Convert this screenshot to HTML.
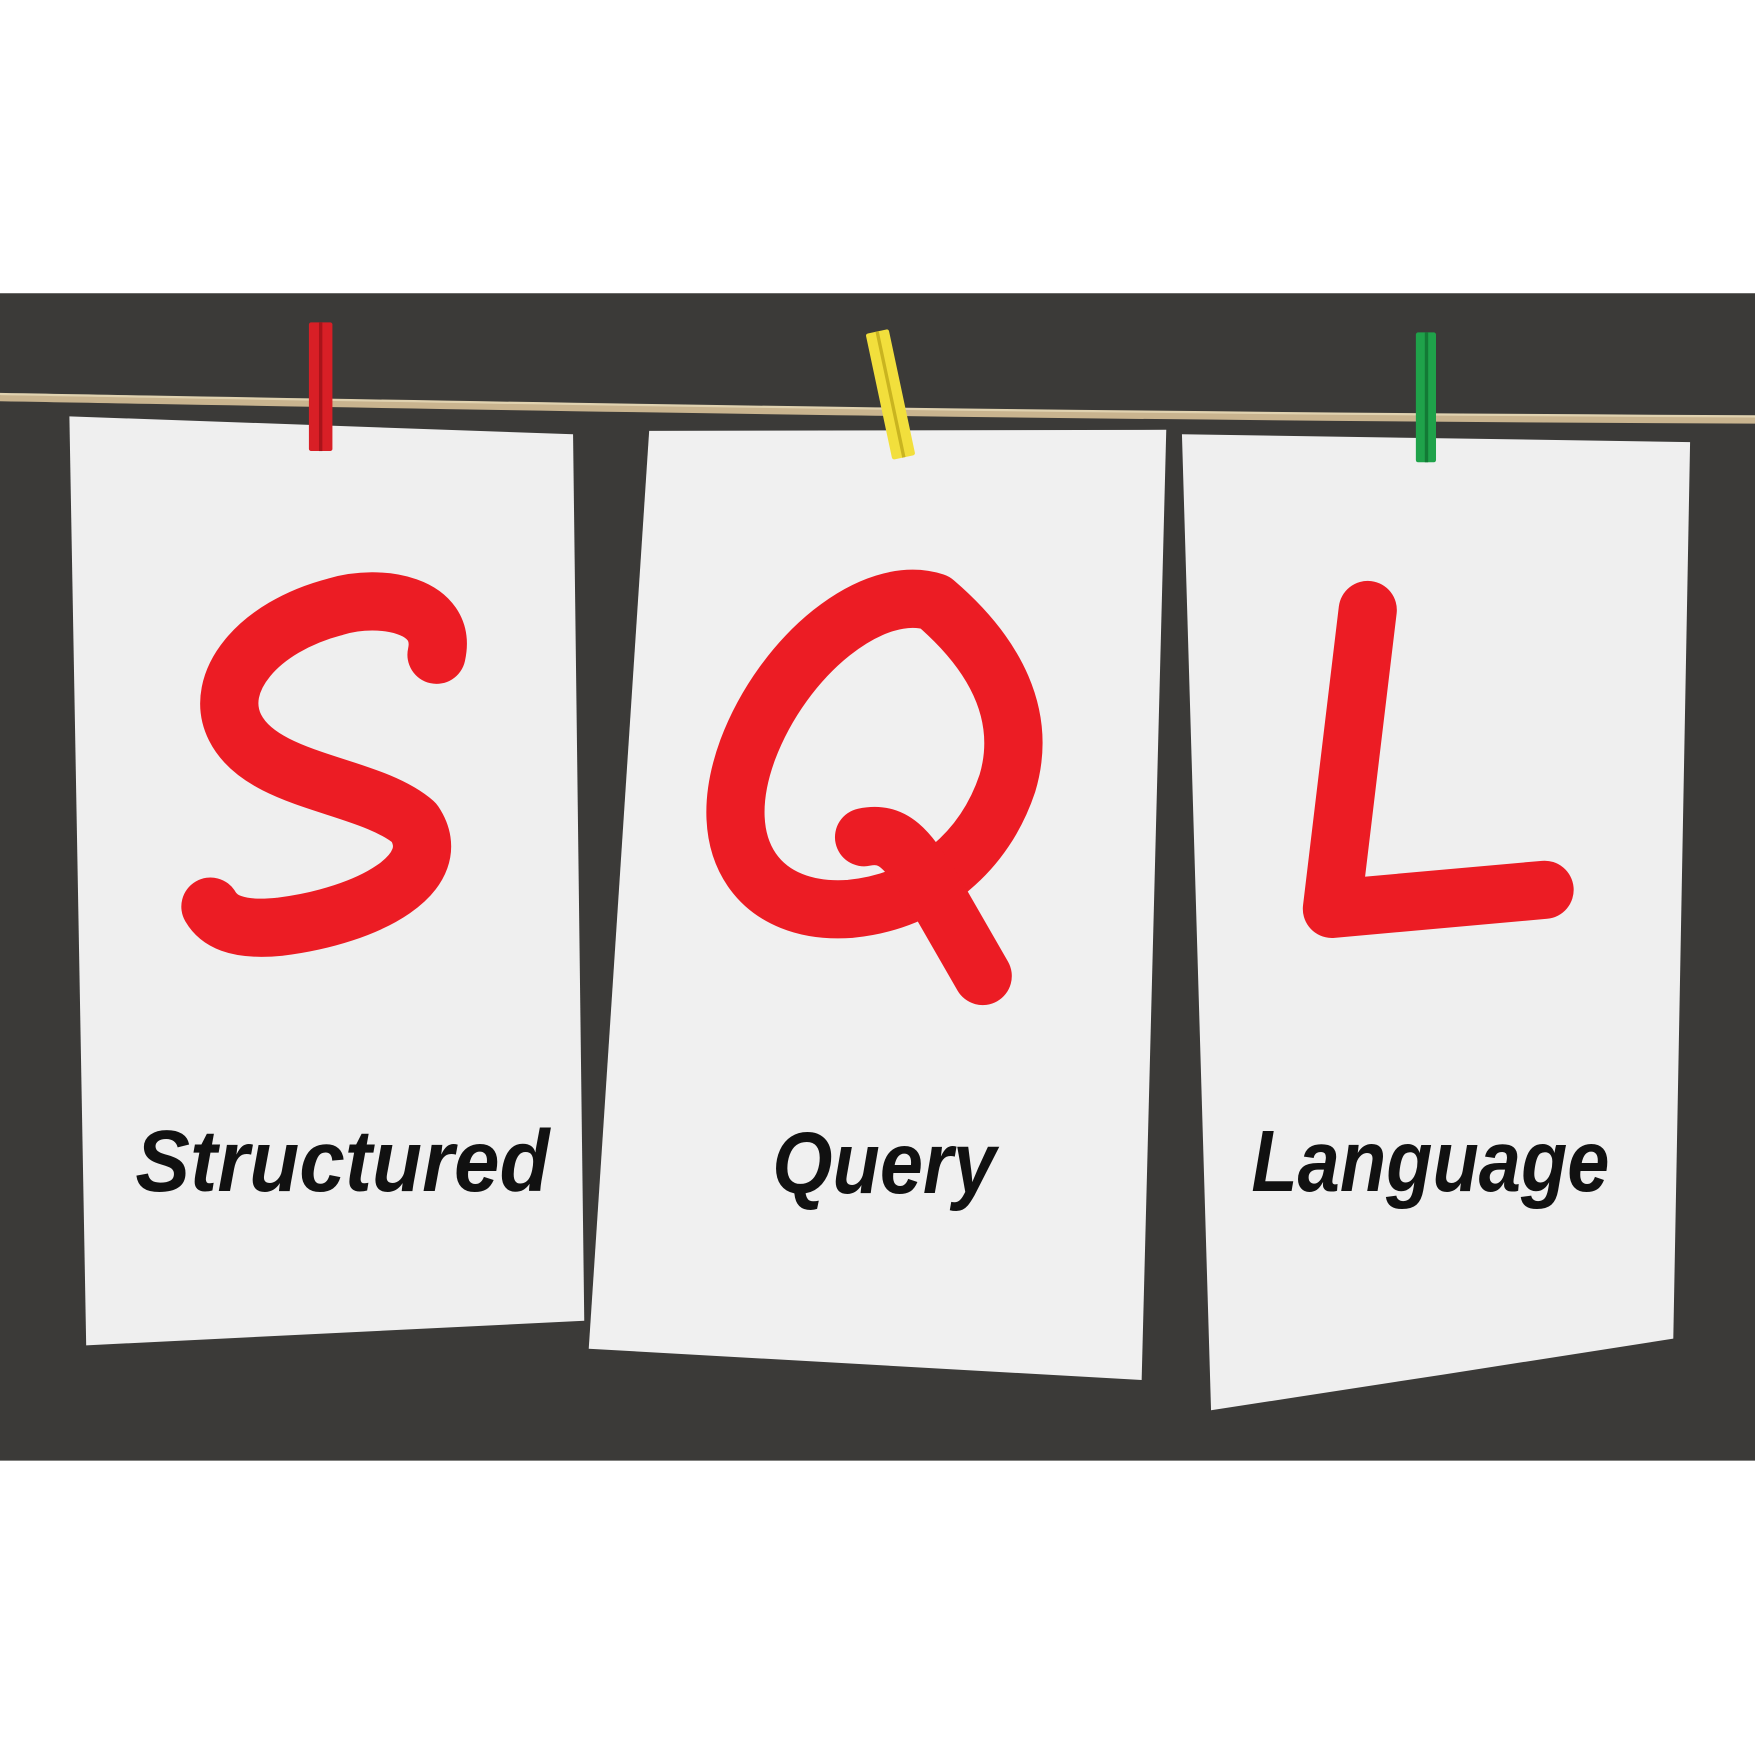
<!DOCTYPE html>
<html><head><meta charset="utf-8"><style>
html,body{margin:0;padding:0;background:#fff;}
svg{display:block;}
</style></head><body>
<svg width="1755" height="1755" viewBox="0 0 1568 1568" xmlns="http://www.w3.org/2000/svg">
<rect x="0" y="0" width="1568" height="1568" fill="#ffffff"/>
<rect x="0" y="262" width="1568" height="1043" fill="#3b3a38"/>
<polygon points="62,372 512,388 522,1180 77,1202" fill="#efefef"/>
<polygon points="580,385 1042,384 1020,1233 526,1205" fill="#f0f0f0"/>
<polygon points="1056,388 1510,395 1495,1196 1290,1228 1082,1260" fill="#efefef"/>
<path d="M0,355 C400,362 900,372 1568,375" stroke="#c9b48f" stroke-width="7" fill="none"/>
<path d="M0,352 C400,359 900,369 1568,372" stroke="#e0d2b0" stroke-width="2" fill="none"/>
<rect x="276" y="288" width="21" height="115" fill="#d81f26" rx="2"/>
<rect x="285" y="288" width="3" height="115" fill="#a8141a"/>
<g transform="rotate(-12 795 352)"><rect x="785" y="295" width="21" height="115" fill="#f2df3c" rx="2"/><rect x="794" y="295" width="3" height="115" fill="#c9b420"/></g>
<rect x="1265" y="297" width="18" height="116" fill="#1fa24a" rx="2"/>
<rect x="1273" y="297" width="3" height="116" fill="#137a35"/>
<g fill="none" stroke="#ec1c24" stroke-width="52" stroke-linecap="round" stroke-linejoin="round">
<path d="M390,585 C400,540 340,530 300,542 C230,560 190,610 210,650 C235,700 330,700 370,735 C400,780 330,818 250,828 C210,832 195,822 188,810"/>
<path d="M835,538 C780,520 700,585 668,670 C635,760 680,818 760,812 C830,805 880,760 900,700 C918,640 890,585 835,538 Z"/>
<path d="M772,748 C800,742 812,762 832,792 L878,872"/>
<path d="M1222,545 L1190,812 L1380,795"/>
</g>
<g font-family="Liberation Sans, sans-serif" font-style="italic" font-weight="bold" font-size="78" fill="#111" text-anchor="middle">
<text x="306" y="1064" textLength="370" lengthAdjust="spacingAndGlyphs">Structured</text>
<text x="790" y="1066" textLength="200" lengthAdjust="spacingAndGlyphs">Query</text>
<text x="1278" y="1064" textLength="320" lengthAdjust="spacingAndGlyphs">Language</text>
</g>
</svg>
</body></html>
